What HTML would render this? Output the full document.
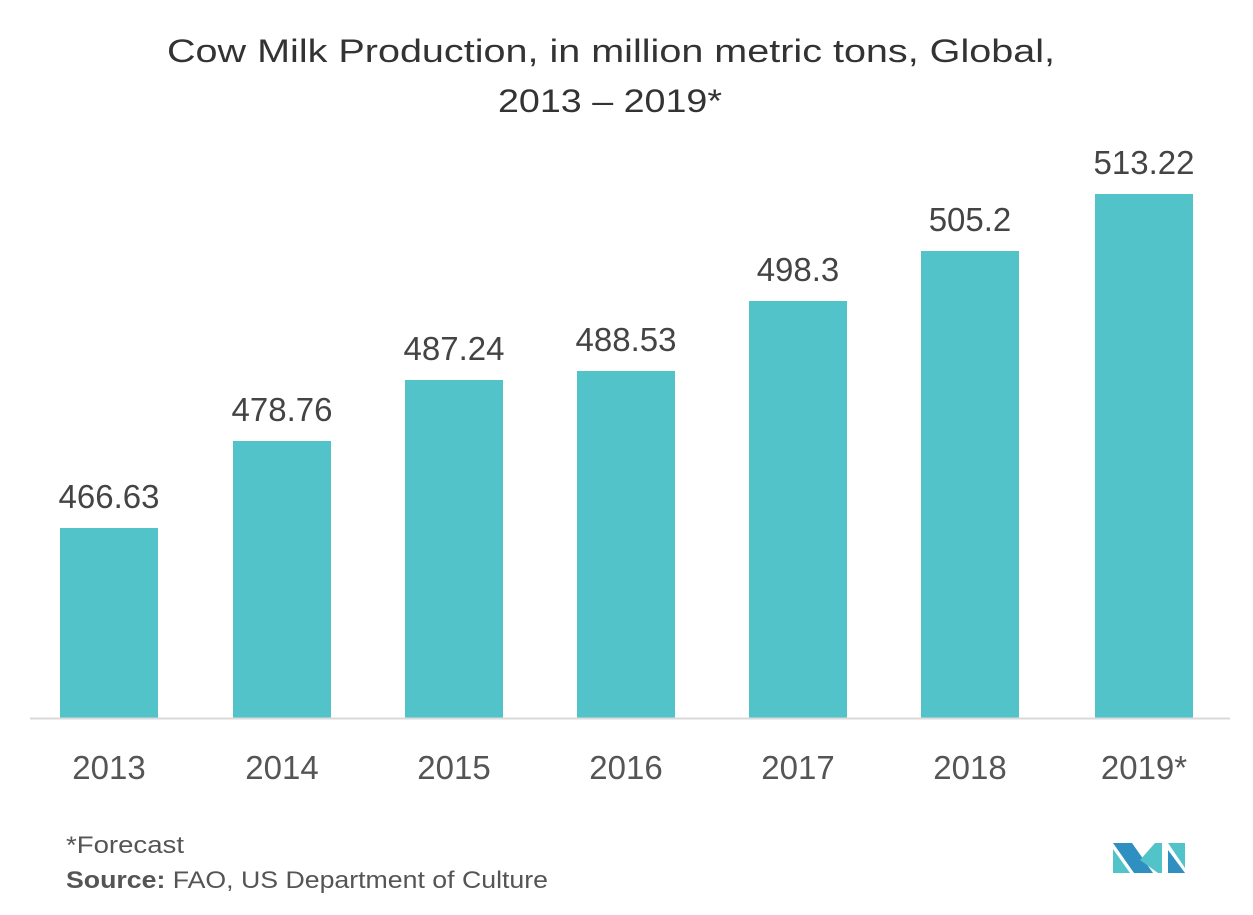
<!DOCTYPE html>
<html><head><style>body{margin:0;background:#fff}svg{display:block}</style></head><body>
<svg width="1253" height="915" xmlns="http://www.w3.org/2000/svg" font-family="Liberation Sans, sans-serif">
<text x="167" y="62" font-size="32" fill="#333" textLength="888" lengthAdjust="spacingAndGlyphs">Cow Milk Production, in million metric tons, Global,</text>
<text x="498" y="112" font-size="32" fill="#333" textLength="224" lengthAdjust="spacingAndGlyphs">2013 – 2019*</text>
<g fill="#52c4c9">
<rect x="60" y="528" width="98" height="190"/>
<rect x="233" y="441" width="98" height="277"/>
<rect x="405" y="380" width="98" height="338"/>
<rect x="577" y="371" width="98" height="347"/>
<rect x="749" y="301" width="98" height="417"/>
<rect x="921" y="251" width="98" height="467"/>
<rect x="1095" y="194" width="98" height="524"/>
</g>
<line x1="30" y1="718.5" x2="1230" y2="718.5" stroke="#d9d9d9" stroke-width="2"/>
<g font-size="33" fill="#444" text-anchor="middle">
<text x="109" y="508">466.63</text>
<text x="282" y="421">478.76</text>
<text x="454" y="360">487.24</text>
<text x="626" y="351">488.53</text>
<text x="798" y="281">498.3</text>
<text x="970" y="231">505.2</text>
<text x="1144" y="174">513.22</text>
</g>
<g font-size="33" fill="#555" text-anchor="middle">
<text x="109" y="779">2013</text>
<text x="282" y="779">2014</text>
<text x="454" y="779">2015</text>
<text x="626" y="779">2016</text>
<text x="798" y="779">2017</text>
<text x="970" y="779">2018</text>
<text x="1144" y="779">2019*</text>
</g>
<text x="66" y="853" font-size="24" fill="#555" textLength="118" lengthAdjust="spacingAndGlyphs">*Forecast</text>
<text x="66" y="888" font-size="24" fill="#555" textLength="482" lengthAdjust="spacingAndGlyphs"><tspan font-weight="bold">Source:</tspan> FAO, US Department of Culture</text>
<g>
<polygon points="1113,843 1132,843 1153,873 1134,873" fill="#2f8fc0"/>
<polygon points="1113,849 1130,873 1113,873" fill="#52c4c9"/>
<polygon points="1140,860 1155,843 1162,843 1162,873 1158,873" fill="#52c4c9"/>
<polygon points="1168,843 1185,843 1185,868" fill="#52c4c9"/>
<polygon points="1168,850 1185,873 1168,873" fill="#2f8fc0"/>
</g>
</svg>
</body></html>
